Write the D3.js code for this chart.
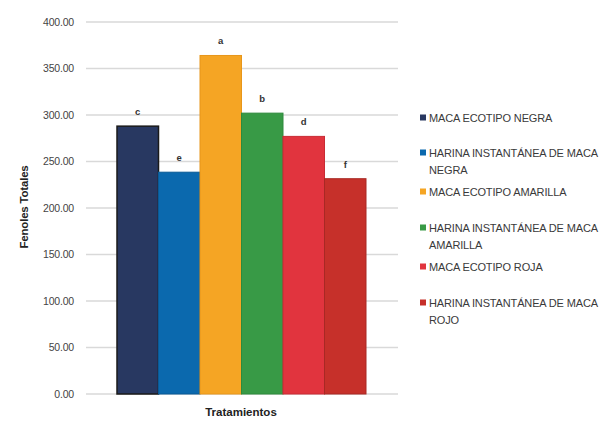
<!DOCTYPE html>
<html>
<head>
<meta charset="utf-8">
<script src="https://cdn.jsdelivr.net/npm/d3@7"></script>
<style>
  html, body { margin: 0; padding: 0; background: #fff; }
  svg { display: block; }
</style>
</head>
<body>
<svg id="chart" width="603" height="421"></svg>
<script>
// Total phenolics per treatment
const categories = [
  "MACA ECOTIPO NEGRA",
  "HARINA INSTANTÁNEA DE MACA NEGRA",
  "MACA ECOTIPO AMARILLA",
  "HARINA INSTANTÁNEA DE MACA AMARILLA",
  "MACA ECOTIPO ROJA",
  "HARINA INSTANTÁNEA DE MACA ROJO"
];
const values = [288, 238.5, 364, 302, 277, 231.5];
const letters = ["c", "e", "a", "b", "d", "f"];
const colors = ["#283861", "#0b69ae", "#f5a524", "#389a46", "#e1343e", "#c6302a"];
const strokes = ["#1a1a1a", "#0a5a95", "#e8961a", "#2e8a3c", "#c92b34", "#a82824"];
const legendLines = [
  ["MACA ECOTIPO NEGRA"],
  ["HARINA INSTANTÁNEA DE MACA", "NEGRA"],
  ["MACA ECOTIPO AMARILLA"],
  ["HARINA INSTANTÁNEA DE MACA", "AMARILLA"],
  ["MACA ECOTIPO ROJA"],
  ["HARINA INSTANTÁNEA DE MACA", "ROJO"]
];
const yTicks = [0, 50, 100, 150, 200, 250, 300, 350, 400];

const svg = d3.select("#chart");
const plot = { left: 86, right: 398, top: 22, bottom: 394 };

const y = d3.scaleLinear().domain([0, 400]).range([plot.bottom, plot.top]);
const x = d3.scaleBand().domain(categories).range([117, 366]).paddingInner(0);

// gridlines
svg.append("g")
  .selectAll("line")
  .data(yTicks)
  .join("line")
  .attr("x1", plot.left).attr("x2", plot.right)
  .attr("y1", d => y(d)).attr("y2", d => y(d))
  .attr("stroke", "#d9d9d9").attr("stroke-width", 1.5);

// y axis labels
const yAxis = d3.axisLeft(y).tickValues(yTicks).tickFormat(d3.format(".2f")).tickSize(0).tickPadding(0);
const yg = svg.append("g").attr("transform", "translate(74,0)").call(yAxis);
yg.select(".domain").remove();
yg.selectAll("text")
  .attr("font-family", "'Liberation Sans Narrow', 'Liberation Sans', Arial, sans-serif")
  .attr("font-size", 10.5).attr("letter-spacing", -0.2).attr("fill", "#444");

// bars
svg.append("g")
  .selectAll("rect")
  .data(categories)
  .join("rect")
  .attr("x", d => x(d))
  .attr("y", (d, i) => y(values[i]))
  .attr("width", x.bandwidth())
  .attr("height", (d, i) => y(0) - y(values[i]))
  .attr("fill", (d, i) => colors[i])
  .attr("stroke", (d, i) => strokes[i])
  .attr("stroke-width", (d, i) => i === 0 ? 1.5 : 1);

// significance letters
svg.append("g")
  .selectAll("text")
  .data(categories)
  .join("text")
  .attr("x", d => x(d) + x.bandwidth() / 2)
  .attr("y", (d, i) => y(values[i]) - 11)
  .attr("text-anchor", "middle")
  .attr("font-family", "'Liberation Sans', Arial, sans-serif")
  .attr("font-weight", "bold")
  .attr("font-size", 9.5)
  .attr("fill", "#333")
  .text((d, i) => letters[i]);

// axis titles
svg.append("text")
  .attr("transform", "translate(28,207) rotate(-90)")
  .attr("text-anchor", "middle")
  .attr("font-family", "'Liberation Sans', Arial, sans-serif")
  .attr("font-weight", "bold").attr("font-size", 11.5).attr("fill", "#222")
  .attr("letter-spacing", -0.2)
  .text("Fenoles Totales");

svg.append("text")
  .attr("x", 241).attr("y", 416)
  .attr("text-anchor", "middle")
  .attr("font-family", "'Liberation Sans', Arial, sans-serif")
  .attr("font-weight", "bold").attr("font-size", 11.5).attr("fill", "#222")
  .text("Tratamientos");

// legend
const legendY = [118, 153, 192, 228, 267, 303];
const lg = svg.append("g");
categories.forEach((c, i) => {
  lg.append("rect")
    .attr("x", 420).attr("y", legendY[i] - 3.5)
    .attr("width", 6).attr("height", 6)
    .attr("fill", colors[i]);
  const t = lg.append("text")
    .attr("font-family", "'Liberation Sans Narrow', 'Liberation Sans', Arial, sans-serif")
    .attr("font-size", 11).attr("fill", "#3a3a3a").attr("letter-spacing", -0.15);
  legendLines[i].forEach((line, k) => {
    t.append("tspan").attr("x", 429).attr("y", legendY[i] + 4 + k * 17).text(line);
  });
});
</script>
</body>
</html>
